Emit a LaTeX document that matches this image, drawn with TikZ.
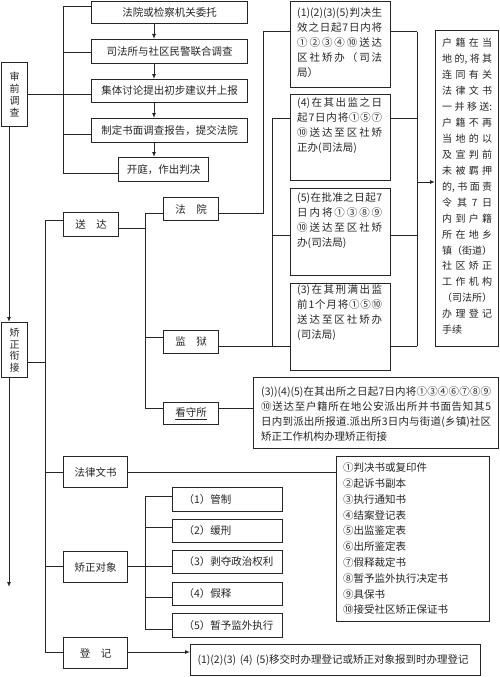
\documentclass[tikz,border=0pt]{standalone}
\usepackage{fontspec}
\setmainfont{Noto Sans CJK SC}
\usetikzlibrary{arrows.meta}
\makeatletter
\newcount\jl@prev
\newcommand\jl[2]{\makebox[#1][s]{\jl@a#2\relax}}
\def\jl@a#1{#1\jl@prev=`#1\relax\jl@b}
\def\jl@b#1{\ifx#1\relax\else\jl@t{#1}#1\jl@prev=`#1\relax\expandafter\jl@b\fi}
\def\jl@t#1{%
  \ifnum`#1>255 \hfil\else
    \ifnum\jl@prev>255
      \ifnum`#1=44 \else\ifnum`#1=46 \else\ifnum`#1=58 \else\ifnum`#1=41 \else\hfil\fi\fi\fi\fi
    \fi
  \fi}
\makeatother
\begin{document}
\begin{tikzpicture}[x=1pt,y=-1pt,
  every node/.style={font=\fontsize{10.5}{15}\selectfont, text=black!85},
  box/.style={draw=black!85, line width=1pt, anchor=north west, inner sep=0pt},
  ln/.style={draw=black!85, line width=1pt},
  arr/.style={ln, -{Latex[length=5pt,width=4pt]}},
  txt/.style={anchor=north west, align=left, inner sep=0pt}]
\fill[white] (0,0) rectangle (500,677);
\useasboundingbox (0,0) rectangle (500,677);

% ---------- pre-trial investigation ----------
\node[box, minimum width=26pt, minimum height=64pt, align=center, font=\fontsize{10}{11.7}\selectfont] (sq) at (1,62) {审\\前\\调\\查};
\node[box, minimum width=156pt, minimum height=22pt] (b1) at (91,1) {法院或检察机关委托};
\node[box, minimum width=156pt, minimum height=24pt] (b2) at (91,39) {司法所与社区民警联合调查};
\node[box, minimum width=156pt, minimum height=23pt] (b3) at (91,79) {集体讨论提出初步建议并上报};
\node[box, minimum width=156pt, minimum height=24pt] (b4) at (91,118) {制定书面调查报告，提交法院};
\node[box, minimum width=90pt, minimum height=24pt] (b5) at (118,157) {开庭，作出判决};

\coordinate (ax) at (154,0);
\draw[arr] (b1.south -| ax) -- (b2.north -| ax);
\draw[arr] (b2.south -| ax) -- (b3.north -| ax);
\draw[arr] (b3.south -| ax) -- (b4.north -| ax);
\draw[arr] (b4.south -| ax) -- (b5.north -| ax);

\coordinate (v1a) at (63,7);
\coordinate (v1b) at (63,173);
\draw[ln] (v1a) -- (v1b);
\draw[ln] (v1a) -- (v1a -| b1.west);
\draw[ln] (63,53) -- (b2.west |- 0,53);
\draw[ln] (sq.east) -- (sq.east -| b3.west);
\draw[ln] (63,134) -- (b4.west |- 0,134);
\draw[ln] (v1b) -- (v1b -| b5.west);

% ---------- correction handover ----------
\node[box, minimum width=26pt, minimum height=55pt, align=center, font=\fontsize{10}{11.5}\selectfont] (jz) at (1,322) {矫\\正\\衔\\接};
\draw[arr] (sq.south -| 9,0) -- (jz.north -| 9,0);
\coordinate (endarr) at (9,587);
\draw[arr] (jz.south -| 9,0) -- (endarr);

\node[box, minimum width=55pt, minimum height=24pt] (sd) at (63,212) {送\hspace{1em}达};
\node[box, minimum width=64pt, minimum height=31pt] (fl) at (63,456) {法律文书};
\node[box, minimum width=64pt, minimum height=31pt] (dx) at (63,551) {矫正对象};
\node[box, minimum width=64pt, minimum height=31pt] (dj) at (63,637) {登\hspace{1em}记};

\draw[ln] (jz.east |- 0,362) -- (45,362);
\draw[ln] (45,220) -- (45,652);
\draw[ln] (45,220) -- (sd.west |- 0,220);
\draw[ln] (45,472) -- (fl.west |- 0,472);
\draw[ln] (45,566) -- (dx.west |- 0,566);
\draw[ln] (45,652) -- (dj.west |- 0,652);

% ---------- delivery ----------
\node[box, minimum width=55pt, minimum height=23pt] (fy) at (163,197) {法\hspace{1em}院};
\node[box, minimum width=55pt, minimum height=23pt] (jy) at (163,330) {监\hspace{1em}狱};
\node[box, minimum width=55pt, minimum height=22pt] (ks) at (163,402) {\underline{看守所}};

\draw[ln] (sd.east |- 0,228) -- (145,228);
\draw[ln] (145,213) -- (145,408);
\draw[ln] (145,213) -- (fy.west |- 0,213);
\draw[ln] (145,337) -- (jy.west |- 0,337);
\draw[ln] (145,408) -- (ks.west |- 0,408);

\node[box, minimum width=100pt, minimum height=86pt] (A) at (290,1) {};
\node[box, minimum width=100pt, minimum height=86pt] (B) at (290,94) {};
\node[box, minimum width=100pt, minimum height=87pt] (C) at (290,188) {};
\node[box, minimum width=100pt, minimum height=87pt] (D) at (290,283) {};
\node[box, minimum width=63pt, minimum height=316pt] (R) at (435,30) {};
\node[box, minimum width=245pt, minimum height=71pt] (E) at (253,377) {};

\node[txt] (tA) at (297,7.5) {\jl{85pt}{(1)(2)(3)(5)判决生}\\\jl{85pt}{效之日起7日内将}\\\jl{85pt}{①②③④⑩送达}\\\jl{85pt}{区社矫办（司法}\\局）};
\node[txt] (tB) at (297,97.5) {\jl{85pt}{(4)在其出监之日}\\\jl{85pt}{起7日内将①⑤⑦}\\\jl{85pt}{⑩送达至区社矫}\\正办(司法局)};
\node[txt] (tC) at (297,192) {\jl{85pt}{(5)在批准之日起7}\\\jl{85pt}{日内将①③⑧⑨}\\\jl{85pt}{⑩送达至区社矫}\\办(司法局)};
\node[txt] (tD) at (297,284.5) {\jl{85pt}{(3)在其刑满出监}\\\jl{85pt}{前1个月将①⑤⑩}\\\jl{85pt}{送达至区社矫办}\\(司法局)};
\node[txt, font=\fontsize{10}{15.95}\selectfont] (tR) at (442,38) {\jl{50pt}{户籍在当}\\\jl{50pt}{地的,将其}\\\jl{50pt}{连同有关}\\\jl{50pt}{法律文书}\\\jl{50pt}{一并移送:}\\\jl{50pt}{户籍不再}\\\jl{50pt}{当地的以}\\\jl{50pt}{及宣判前}\\\jl{50pt}{未被羁押}\\\jl{50pt}{的,书面责}\\\jl{50pt}{令其7日}\\\jl{50pt}{内到户籍}\\\jl{50pt}{所在地乡}\\\jl{50pt}{镇（街道）}\\\jl{50pt}{社区矫正}\\\jl{50pt}{工作机构}\\\jl{50pt}{（司法所）}\\\jl{50pt}{办理登记}\\手续};
\node[txt] (tE) at (261,386.7) {\jl{230pt}{(3))(4)(5)在其出所之日起7日内将①③④⑥⑦⑧⑨}\\\jl{230pt}{⑩送达至户籍所在地公安派出所并书面告知其5}\\\jl{230pt}{日内到派出所报道.派出所3日内与街道(乡镇)社区}\\矫正工作机构办理矫正衔接};

\draw[ln] (fy.east |- 0,213) -- (263,213) -- (263,32) -- (A.west |- 0,32);
\draw[ln] (jy.east |- 0,346) -- (272,346);
\draw[ln] (272,118) -- (272,346);
\draw[ln] (272,118) -- (B.west |- 0,118);
\draw[ln] (272,235) -- (C.west |- 0,235);
\draw[ln] (272,346) -- (D.west |- 0,346);
\draw[ln] (A.east |- 0,32) -- (417,32);
\draw[ln] (B.east |- 0,118) -- (417,118);
\draw[ln] (C.east |- 0,235) -- (417,235);
\draw[ln] (D.east |- 0,346) -- (417,346);
\draw[ln] (417,32) -- (417,346);
\draw[arr] (417,182) -- (R.west |- 0,182);
\draw[ln] (ks.east |- 0,408) -- (E.west |- 0,408);

% ---------- legal documents ----------
\node[box, minimum width=153pt, minimum height=165pt] (F) at (336,456) {};
\node[txt, font=\fontsize{10.5}{15.8}\selectfont] (tF) at (343,462.7) {①判决书或复印件\\②起诉书副本\\③执行通知书\\④结案登记表\\⑤出监鉴定表\\⑥出所鉴定表\\⑦假释裁定书\\⑧暂予监外执行决定书\\⑨具保书\\⑩接受社区矫正保证书};
\draw[ln] (fl.east |- 0,472) -- (F.west |- 0,472);

% ---------- correction subjects ----------
\tikzset{sbox/.style={box, minimum width=110pt, text width=88pt, align=left, inner xsep=11pt}}
\node[sbox, minimum height=24pt] (s1) at (172,487) {（1）管制};
\node[sbox, minimum height=23pt] (s2) at (172,519) {（2）缓刑};
\node[sbox, minimum height=23pt] (s3) at (172,550) {（3）剥夺政治权利};
\node[sbox, minimum height=23pt] (s4) at (172,582) {（4）假释};
\node[sbox, minimum height=24pt] (s5) at (172,613) {（5）暂予监外执行};
\draw[ln] (dx.east |- 0,566) -- (145,566);
\draw[ln] (145,496) -- (145,629);
\draw[ln] (145,496) -- (s1.west |- 0,496);
\draw[ln] (145,527) -- (s2.west |- 0,527);
\draw[ln] (145,566) -- (s3.west |- 0,566);
\draw[ln] (145,597) -- (s4.west |- 0,597);
\draw[ln] (145,629) -- (s5.west |- 0,629);

% ---------- registration ----------
\node[box, minimum width=290pt, minimum height=31pt, text width=276pt, align=left, inner xsep=7pt] (G) at (190,644) {(1)(2)(3) (4) (5)移交时办理登记或矫正对象报到时办理登记};
\draw[arr] (dj.east |- 0,652) -- (G.west |- 0,652);
\end{tikzpicture}
\end{document}
